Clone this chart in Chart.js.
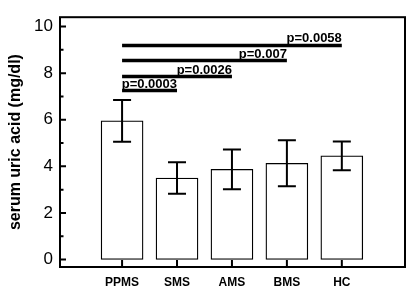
<!DOCTYPE html>
<html>
<head>
<meta charset="utf-8">
<script src="https://cdn.jsdelivr.net/npm/chart.js@4.4.0/dist/chart.umd.min.js"></script>
<style>
  body { margin: 0; background: #fff; }
  canvas { display: block; }
</style>
</head>
<body>
<canvas id="uricChart" width="413" height="287"></canvas>
<script>
var groups = ['PPMS', 'SMS', 'AMS', 'BMS', 'HC'];
var means = [5.95, 3.5, 3.87, 4.13, 4.45];
var sds = [0.9, 0.68, 0.85, 0.99, 0.62];
var yTicks = [0, 1, 2, 3, 4, 5, 6, 7, 8, 9, 10];

// significance brackets: from group index -> to group index, height, label
var sigFrom = [0, 0, 0, 0];
var sigTo = [1, 2, 3, 4];
var sigY = [7.25, 7.85, 8.54, 9.19];
var sigText = ['p=0.0003', 'p=0.0026', 'p=0.007', 'p=0.0058'];

Chart.defaults.font.family = '"Liberation Sans", Arial, sans-serif';
Chart.defaults.color = '#000';

var decor = {
    id: 'decor',
    afterDatasetsDraw: function (chart) {
        var ctx = chart.ctx;
        var xs = chart.scales.x;
        var ys = chart.scales.y;
        var area = chart.chartArea;
        ctx.save();
        ctx.strokeStyle = '#000';
        ctx.fillStyle = '#000';

        // error bars
        ctx.lineWidth = 2;
        for (var i = 0; i < groups.length; i++) {
            var px = xs.getPixelForValue(i);
            var top = ys.getPixelForValue(means[i] + sds[i]);
            var bot = ys.getPixelForValue(means[i] - sds[i]);
            ctx.beginPath();
            ctx.moveTo(px, top); ctx.lineTo(px, bot);
            ctx.moveTo(px - 9, top); ctx.lineTo(px + 9, top);
            ctx.moveTo(px - 9, bot); ctx.lineTo(px + 9, bot);
            ctx.stroke();
        }

        // significance lines + p values
        ctx.font = 'bold 13px "Liberation Sans", Arial, sans-serif';
        ctx.textAlign = 'right';
        ctx.textBaseline = 'alphabetic';
        for (var k = 0; k < sigY.length; k++) {
            var x1 = xs.getPixelForValue(sigFrom[k]);
            var x2 = xs.getPixelForValue(sigTo[k]);
            var py = ys.getPixelForValue(sigY[k]);
            ctx.lineWidth = 3.5;
            ctx.beginPath();
            ctx.moveTo(x1, py); ctx.lineTo(x2, py);
            ctx.stroke();
            ctx.fillText(sigText[k], x2, py - 3);
        }

        // frame
        ctx.lineWidth = 2;
        ctx.strokeRect(area.left, area.top, area.right - area.left, area.bottom - area.top);

        // inward ticks
        ctx.beginPath();
        yTicks.forEach(function (v) {
            var ty = ys.getPixelForValue(v);
            var len = v % 2 === 0 ? 6 : 3.5;
            ctx.moveTo(area.left, ty); ctx.lineTo(area.left + len, ty);
        });
        groups.forEach(function (g, i) {
            var tx = xs.getPixelForValue(i);
            ctx.moveTo(tx, area.bottom); ctx.lineTo(tx, area.bottom - 7);
        });
        ctx.stroke();
        ctx.restore();
    }
};

new Chart(document.getElementById('uricChart'), {
    type: 'bar',
    data: {
        datasets: [{
            data: groups.map(function (g, i) { return { x: i, y: means[i] }; }),
            backgroundColor: '#fff',
            borderColor: '#000',
            borderWidth: 1.3,
            borderSkipped: false,
            barThickness: 42
        }]
    },
    options: {
        responsive: false,
        animation: false,
        layout: { padding: { top: 2, right: 8, left: 0, bottom: 0 } },
        plugins: {
            legend: { display: false },
            tooltip: { enabled: false }
        },
        scales: {
            x: {
                type: 'linear',
                offset: false,
                min: -1.13,
                max: 5.15,
                afterBuildTicks: function (s) {
                    s.ticks = groups.map(function (g, i) { return { value: i }; });
                },
                afterFit: function (s) { s.height = 20; },
                grid: { display: false, drawTicks: false, offset: false },
                border: { display: false },
                ticks: {
                    autoSkip: false,
                    maxRotation: 0,
                    padding: 8,
                    font: { size: 12, weight: 'bold' },
                    callback: function (v) { return groups[v]; }
                }
            },
            y: {
                min: -0.32,
                max: 10.4,
                afterBuildTicks: function (s) {
                    s.ticks = yTicks.map(function (v) { return { value: v }; });
                },
                afterFit: function (s) { s.width = 60; },
                grid: { display: false, drawTicks: false },
                border: { display: false },
                ticks: {
                    padding: 7,
                    font: { size: 17 },
                    callback: function (v) { return v % 2 === 0 ? v : ''; }
                },
                title: {
                    display: true,
                    text: 'serum uric acid (mg/dl)',
                    font: { size: 16, weight: 'bold' },
                    padding: { top: 6, bottom: 0 }
                }
            }
        }
    },
    plugins: [decor]
});
</script>
</body>
</html>
